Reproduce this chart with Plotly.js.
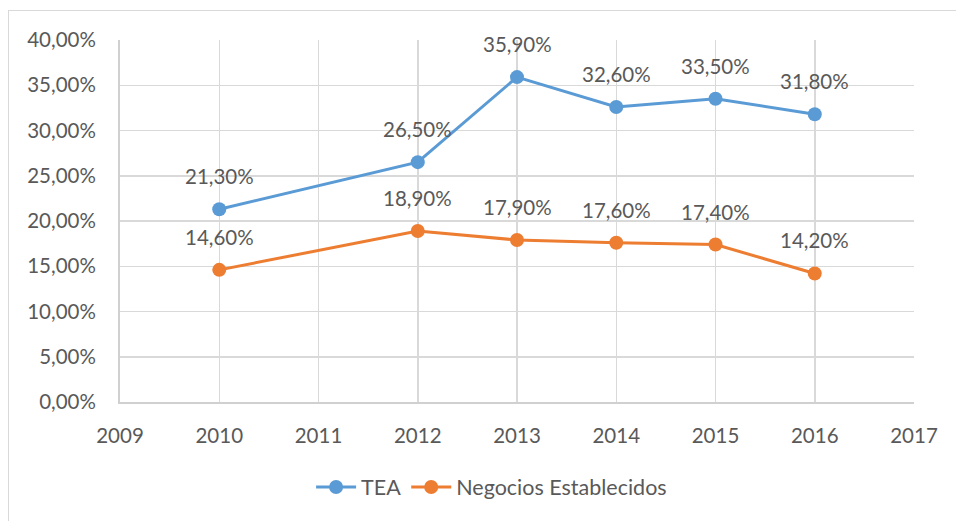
<!DOCTYPE html>
<html>
<head>
<meta charset="utf-8">
<script src="https://cdn.plot.ly/plotly-3.0.1.min.js"></script>
<style>
html,body{margin:0;padding:0;background:#fff;}
#frame{position:absolute;left:8px;top:10px;width:960px;height:530px;border:1px solid #d9d9d9;box-sizing:border-box;}
#chart{position:absolute;left:0;top:0;width:956px;height:521px;}
</style>
</head>
<body>
<div id="frame"></div>
<div id="chart"></div>
<script>
const years = [2010, 2012, 2013, 2014, 2015, 2016];
const tea = [0.213, 0.265, 0.359, 0.326, 0.335, 0.318];
const negocios = [0.146, 0.189, 0.179, 0.176, 0.174, 0.142];
const seriesNames = ['TEA', 'Negocios Establecidos'];
const colors = ['#5B9BD5', '#ED7D31'];
const fontFam = 'Lato, "Open Sans", sans-serif';
const txtColor = '#595959';

const allSeries = [tea, negocios];
const traces = allSeries.map((vals, i) => ({
  x: years, y: vals, name: seriesNames[i], type: 'scatter', mode: 'lines+markers',
  line: {color: colors[i], width: 3},
  marker: {color: colors[i], size: 14},
  hoverinfo: 'skip'
}));

function fmt(v){ return (v*100).toFixed(2).replace('.', ',') + '%'; }
const annotations = [];
allSeries.forEach(vals => {
  vals.forEach((v, j) => {
    annotations.push({x: years[j], y: v, xref: 'x', yref: 'y', text: fmt(v), showarrow: false,
      yshift: 33, font: {family: fontFam, size: 20.5, color: txtColor}});
  });
});

const layout = {
  width: 956, height: 521,
  margin: {l: 120, r: 42, t: 40, b: 119},
  paper_bgcolor: 'rgba(0,0,0,0)', plot_bgcolor: '#fff',
  separators: ',.',
  font: {family: fontFam, size: 20, color: txtColor},
  showlegend: true,
  legend: {orientation: 'h', x: 0.468, xanchor: 'center', y: -0.235, yanchor: 'middle',
    font: {family: fontFam, size: 21.5, color: txtColor}, itemwidth: 40},
  xaxis: {range: [2009, 2017], dtick: 1, tick0: 2009, showgrid: true, gridcolor: '#d9d9d9', gridwidth: 1.5,
    showline: true, linecolor: '#d0d0d0', linewidth: 2, zeroline: false, ticks: '', ticklabelstandoff: 14,
    tickfont: {family: fontFam, size: 20.5, color: txtColor}},
  yaxis: {range: [0, 0.40], dtick: 0.05, tickformat: '.2%', showgrid: true, gridcolor: '#d9d9d9', gridwidth: 1.5,
    showline: true, linecolor: '#d0d0d0', linewidth: 2, zeroline: false, ticks: '', ticklabelstandoff: 18,
    tickfont: {family: fontFam, size: 20.5, color: txtColor}},
  annotations: annotations
};
Plotly.newPlot('chart', traces, layout, {displayModeBar: false, staticPlot: true});
</script>
</body>
</html>
